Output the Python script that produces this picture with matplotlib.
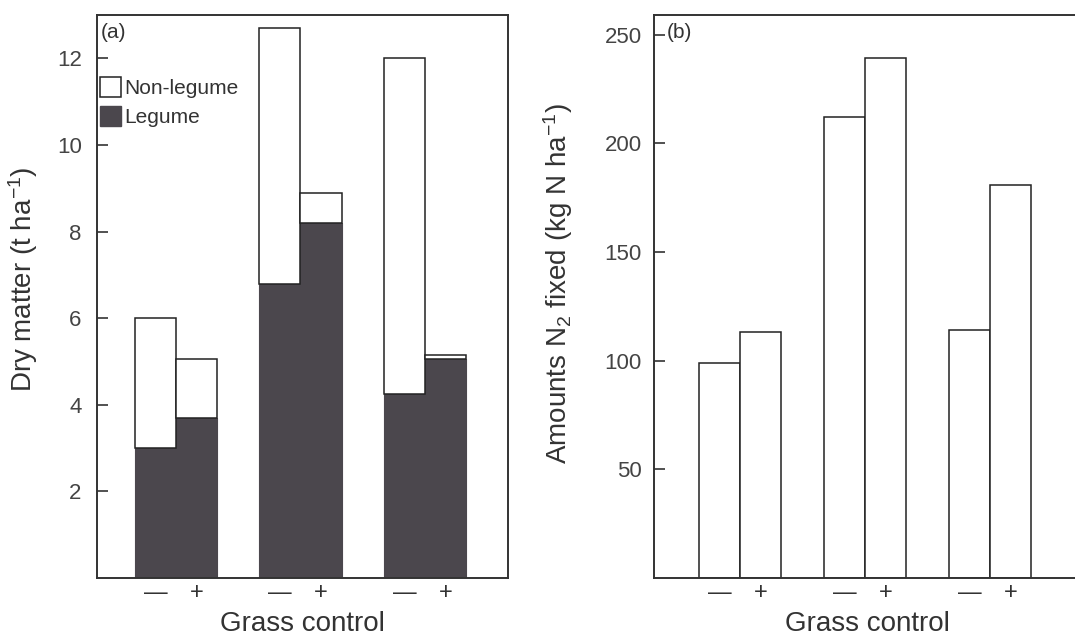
import numpy as np
import matplotlib.pyplot as plt
from matplotlib.patches import Patch

plt.rcParams["font.family"] = ["Liberation Sans", "DejaVu Sans"]
plt.rcParams["mathtext.default"] = "regular"

# three groups, each with grass control - / +
groups = [0, 1, 2]
control = ["\u2014", "+"]

# panel (a): dry matter, t/ha
total_minus = [6.0, 12.7, 12.0]
total_plus = [5.05, 8.9, 5.15]
legume_minus = [3.0, 6.8, 4.25]
legume_plus = [3.7, 8.2, 5.05]

# panel (b): N2 fixed, kg N/ha
n2_minus = [99, 212, 114]
n2_plus = [113, 239, 181]

DARK = "#4b474d"
EDGE = "#222222"
W = 0.33


def style_axes(ax, pad):
    for sp in ax.spines.values():
        sp.set_linewidth(1.4)
        sp.set_color("#333333")
    ax.tick_params(axis="y", direction="in", length=8, width=1.2,
                   labelsize=16, colors="#333333", pad=pad)
    ax.tick_params(axis="y", labelcolor="#444444")
    ax.tick_params(axis="x", length=0, labelsize=17, pad=3,
                   labelcolor="#333333")


fig = plt.figure(figsize=(10.75, 6.39), dpi=100)

# ---- panel (a)
ax1 = fig.add_axes([0.0902, 0.0955, 0.3823, 0.881])
g = np.array(groups)
xm = g - W / 2
xp = g + W / 2
ax1.bar(xm, legume_minus, W, color=DARK, edgecolor=DARK, linewidth=0.8)
ax1.bar(xp, legume_plus, W, color=DARK, edgecolor=DARK, linewidth=0.8)
ax1.bar(xm, np.array(total_minus) - np.array(legume_minus), W,
        bottom=legume_minus, color="white", edgecolor=EDGE, linewidth=1.1)
ax1.bar(xp, np.array(total_plus) - np.array(legume_plus), W,
        bottom=legume_plus, color="white", edgecolor=EDGE, linewidth=1.1)
ax1.set_xlim(-0.635, 2.667)
ax1.set_ylim(0, 13)
ax1.set_yticks([2, 4, 6, 8, 10, 12])
ax1.set_xticks(np.concatenate([xm, xp]))
ax1.set_xticklabels([control[0]] * 3 + [control[1]] * 3)
style_axes(ax1, 11)
ax1.set_ylabel("Dry matter (t ha$^{-1}$)", fontsize=20, color="#333333")
ax1.yaxis.set_label_coords(-0.139, 0.53)
ax1.set_xlabel("Grass control", fontsize=20, color="#333333", labelpad=5)
ax1.text(0.01, 0.985, "(a)", transform=ax1.transAxes, va="top", ha="left",
         fontsize=15, color="#333333")
handles = [Patch(facecolor="white", edgecolor=EDGE, linewidth=1.1),
           Patch(facecolor=DARK, edgecolor=DARK)]
ax1.legend(handles, ["Non-legume", "Legume"], loc="upper left",
           bbox_to_anchor=(0.008, 0.89), frameon=False, fontsize=15,
           handlelength=1.0, handleheight=1.1, handletextpad=0.15,
           borderpad=0, borderaxespad=0, labelspacing=0.4,
           labelcolor="#333333")

# ---- panel (b)
ax2 = fig.add_axes([0.6084, 0.0955, 0.3963, 0.881])
xm2 = g - W / 2
xp2 = g + W / 2
ax2.bar(xm2, n2_minus, W, color="white", edgecolor=EDGE, linewidth=1.1)
ax2.bar(xp2, n2_plus, W, color="white", edgecolor=EDGE, linewidth=1.1)
ax2.set_xlim(-0.69, 2.72)
ax2.set_ylim(0, 259)
ax2.set_yticks([50, 100, 150, 200, 250])
ax2.set_xticks(np.concatenate([xm2, xp2]))
ax2.set_xticklabels([control[0]] * 3 + [control[1]] * 3)
style_axes(ax2, 9)
ax2.set_ylabel("Amounts N$_2$ fixed (kg N ha$^{-1}$)", fontsize=20,
               color="#333333")
ax2.yaxis.set_label_coords(-0.185, 0.522)
ax2.set_xlabel("Grass control", fontsize=20, color="#333333", labelpad=5)
ax2.text(0.03, 0.985, "(b)", transform=ax2.transAxes, va="top", ha="left",
         fontsize=15, color="#333333")

fig.savefig("out.png", dpi=100)
